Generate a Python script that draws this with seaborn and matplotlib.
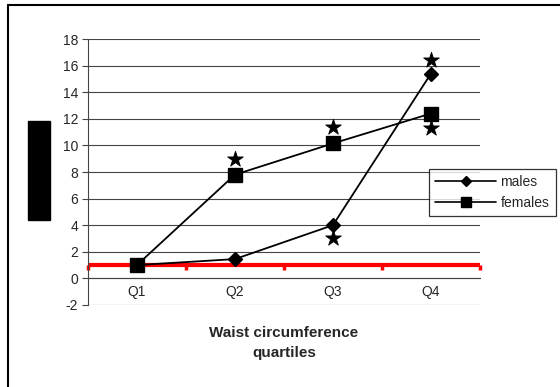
import matplotlib
matplotlib.use("Agg")
import matplotlib.pyplot as plt
import seaborn as sns
import pandas as pd
from matplotlib.lines import Line2D
from matplotlib.patches import Rectangle

# Odds ratios by waist circumference quartile
quartiles = ["Q1", "Q2", "Q3", "Q4"]
males = [1.0, 1.45, 4.0, 15.4]
females = [1.0, 7.8, 10.15, 12.4]

# Significance stars (quartile, height)
star_quartiles = ["Q2", "Q3", "Q3", "Q4", "Q4"]
star_values = [9.0, 11.4, 3.0, 16.4, 11.3]

y_ticks = [-2, 0, 2, 4, 6, 8, 10, 12, 14, 16, 18]
reference_level = 1.0

df = pd.DataFrame({
    "quartile": quartiles * 2,
    "value": males + females,
    "sex": ["males"] * len(quartiles) + ["females"] * len(quartiles),
})

sns.set_style("white")
plt.rcParams["font.family"] = ["Liberation Sans", "DejaVu Sans"]

fig = plt.figure(figsize=(5.6, 3.87), dpi=100)
ax = fig.add_axes([0.157, 0.212, 0.700, 0.687])

# Horizontal gridlines
for yv in y_ticks:
    ax.axhline(yv, color="#444444", lw=0.8, zorder=0)

# Red reference line at OR = 1 with category divider ticks
ax.axhline(reference_level, color="#ff0000", lw=3, zorder=1)
for b in [-0.5, 0.5, 1.5, 2.5, 3.5]:
    ax.plot([b, b], [reference_level, reference_level - 0.35], color="#ff0000",
            lw=2.5, solid_capstyle="butt", zorder=1, clip_on=False)

sns.pointplot(data=df, x="quartile", y="value", hue="sex", order=quartiles,
              hue_order=["males", "females"], markers=["D", "s"],
              palette=["black", "black"], linewidth=1.3, markersize=7,
              ax=ax, legend=False, zorder=3)
# adjust marker sizes per series
lines = [l for l in ax.lines if len(l.get_xdata()) == len(quartiles)]
if len(lines) >= 2:
    lines[-2].set_markersize(7.5)
    lines[-1].set_markersize(9.5)

star_x = [quartiles.index(q) for q in star_quartiles]
ax.scatter(star_x, star_values, marker="*", s=140, color="black", zorder=4,
           linewidths=0.6, edgecolors="black")

ax.set_xlim(-0.5, 3.5)
ax.set_ylim(-2, 18)
ax.set_yticks(y_ticks)
ax.set_yticklabels([str(v) for v in y_ticks], fontsize=10)
ax.set_xlabel("")
ax.set_ylabel("")

for s in ["top", "right"]:
    ax.spines[s].set_visible(False)
ax.spines["left"].set_color("#444444")
ax.spines["left"].set_linewidth(0.8)
ax.spines["bottom"].set_position(("data", 0))
ax.spines["bottom"].set_color("#444444")
ax.spines["bottom"].set_linewidth(0.8)
ax.tick_params(axis="y", left=True, length=4, width=0.8, color="#444444", pad=3)
ax.tick_params(axis="x", bottom=False, labelsize=10, pad=1)

# Legend
handles = [
    Line2D([], [], color="black", marker="D", markersize=5.5, lw=1.2),
    Line2D([], [], color="black", marker="s", markersize=6.5, lw=1.2),
]
leg = fig.legend(handles, ["males", "females"], loc="upper left",
                 bbox_to_anchor=(429 / 560, 1 - 169 / 387), frameon=True,
                 fancybox=False, fontsize=10, handlelength=4.4, borderpad=0.45,
                 labelspacing=0.5, handletextpad=0.3, borderaxespad=0)
leg.get_frame().set_edgecolor("black")
leg.get_frame().set_linewidth(0.9)

# X axis title
fig.text(284 / 560, 1 - 343 / 387, "Waist circumference\nquartiles",
         ha="center", va="center", fontsize=11, fontweight="bold",
         linespacing=1.55)

# Solid block in the y-title position
fig.add_artist(Rectangle((28 / 560, 1 - 220 / 387), 22 / 560, 99 / 387,
                         transform=fig.transFigure, color="black"))

# Outer chart frame
fig.add_artist(Line2D([8 / 560, 1.0], [1 - 5 / 387, 1 - 5 / 387],
                      transform=fig.transFigure, color="black", lw=1.5))
fig.add_artist(Line2D([8 / 560, 8 / 560], [0, 1 - 5 / 387],
                      transform=fig.transFigure, color="black", lw=1.5))

fig.savefig("out.png", dpi=100)
